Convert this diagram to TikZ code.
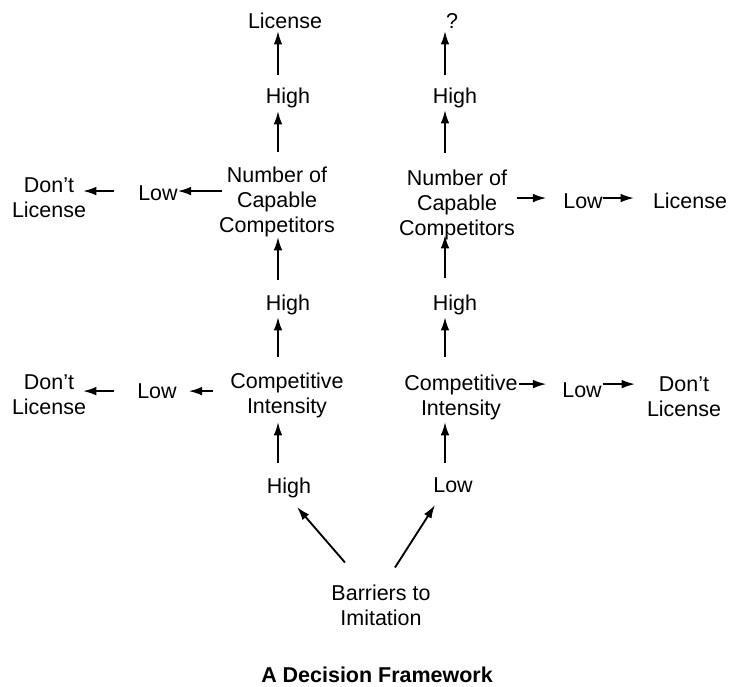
\documentclass[tikz,border=0pt]{standalone}
\usepackage{fontspec}
\setmainfont{Liberation Sans}
\usetikzlibrary{arrows.meta,calc}
\newcommand\dfnt{\fontsize{16.1pt}{18.75pt}\selectfont}
\begin{document}
\begin{tikzpicture}[x=0.75pt,y=-0.75pt,
  word/.style={font=\dfnt,inner sep=0pt,outer sep=0pt,text height=11.75pt,text depth=3.4pt,anchor=base},
  lines/.style={font=\dfnt,inner sep=0pt,outer sep=0pt,align=center,anchor=north},
  arr/.style={-{Latex[length=10pt,width=6.5pt]},line width=1.4pt}]
\useasboundingbox (0,0) rectangle (732,686);
% the two vertical decision columns
\coordinate (colL) at (278,0);
\coordinate (colR) at (445,0);

% left branch: high barriers to imitation
\node[word] (licL) at (285,28) {License};
\node[word] (hiL1) at (288,103) {High};
\node[lines] (nccL) at (277,167) {Number of\\Capable\\Competitors};
\node[word] (lowL1) at (158,200) {Low};
\node[lines] (dontL1) at (49,177.5) {Don’t\\License};
\node[word] (hiL2) at (288,310) {High};
\node[lines] (ciL) at (287,373) {Competitive\\Intensity};
\node[word] (lowL2) at (157,398) {Low};
\node[lines] (dontL2) at (49,374.5) {Don’t\\License};
\node[word] (hiB) at (289,493) {High};

% right branch: low barriers to imitation
\node[word] (q) at (452,28) {?};
\node[word] (hiR1) at (455,103) {High};
\node[lines] (nccR) at (457,170) {Number of\\Capable\\Competitors};
\node[word] (lowR1) at (583,208) {Low};
\node[word] (licR1) at (690,208) {License};
\node[word] (hiR2) at (455,310) {High};
\node[lines] (ciR) at (461,375) {Competitive\\Intensity};
\node[word] (lowR2) at (582,397) {Low};
\node[lines] (dontR2) at (684,376.5) {Don’t\\License};
\node[word] (loB) at (453,492) {Low};

% root and caption
\node[lines] (bar) at (381,584.5) {Barriers to\\Imitation};
\node[word,font=\dfnt\bfseries] (ttl) at (377,682) {A Decision Framework};

% vertical arrows, left column
\draw[arr,shorten <=9.2pt,shorten >=-1.1pt] (hiL1.north -| colL) -- (licL.south -| colL);
\draw[arr,shorten <=11.25pt,shorten >=2.6pt] (nccL.north -| colL) -- (hiL1.south -| colL);
\draw[arr,shorten <=10.7pt,shorten >=0pt] (hiL2.north -| colL) -- (nccL.south -| colL);
\draw[arr,shorten <=12pt,shorten >=1.9pt] (ciL.north -| colL) -- (hiL2.south -| colL);
\draw[arr,shorten <=10.7pt,shorten >=3pt] (hiB.north -| colL) -- (ciL.south -| colL);

% vertical arrows, right column
\draw[arr,shorten <=9.2pt,shorten >=-1.1pt] (hiR1.north -| colR) -- (q.south -| colR);
\draw[arr,shorten <=12.75pt,shorten >=1.9pt] (nccR.north -| colR) -- (hiR1.south -| colR);
\draw[arr,shorten <=12.2pt,shorten >=-3.75pt] (hiR2.north -| colR) -- (nccR.south -| colR);
\draw[arr,shorten <=13.5pt,shorten >=1.9pt] (ciR.north -| colR) -- (hiR2.south -| colR);
\draw[arr,shorten <=10pt,shorten >=1.5pt] (loB.north -| colR) -- (ciR.south -| colR);

% horizontal arrows, left side
\draw[arr,shorten <=-2.25pt] ([yshift=2.55pt]lowL1.east -| nccL.west) -- ([yshift=2.55pt]lowL1.east);
\draw[arr,shorten <=18pt,shorten >=-2.25pt] ([yshift=2.55pt]lowL1.west) -- ([yshift=2.55pt]lowL1.west -| dontL1.east);
\draw[arr,shorten <=12.75pt,shorten >=9pt] ([yshift=1pt]lowL2.east -| ciL.west) -- ([yshift=1pt]lowL2.east);
\draw[arr,shorten <=17.25pt,shorten >=-2.25pt] ([yshift=1pt]lowL2.west) -- ([yshift=1pt]lowL2.west -| dontL2.east);

% horizontal arrows, right side
\draw[arr,shorten <=1.5pt,shorten >=12.75pt] ([yshift=3.3pt]lowR1.west -| nccR.east) -- ([yshift=3.3pt]lowR1.west);
\draw[arr,shorten >=14.25pt] ([yshift=3.3pt]lowR1.east) -- ([yshift=3.3pt]lowR1.east -| licR1.west);
\draw[arr,shorten <=0.75pt,shorten >=12pt] ([yshift=5.5pt]lowR2.west -| ciR.east) -- ([yshift=5.5pt]lowR2.west);
\draw[arr,shorten <=0.75pt,shorten >=9pt] ([yshift=5.5pt]lowR2.east) -- ([yshift=5.5pt]lowR2.east -| dontR2.west);

% diagonal arrows from the root
\draw[arr] ($(bar.north)+(-36,-22)$) -- ($(hiB.south)+(8,9.5)$);
\draw[arr] ($(bar.north)+(14,-17)$) -- ($(loB.south)+(-18,8.5)$);
\end{tikzpicture}
\end{document}
